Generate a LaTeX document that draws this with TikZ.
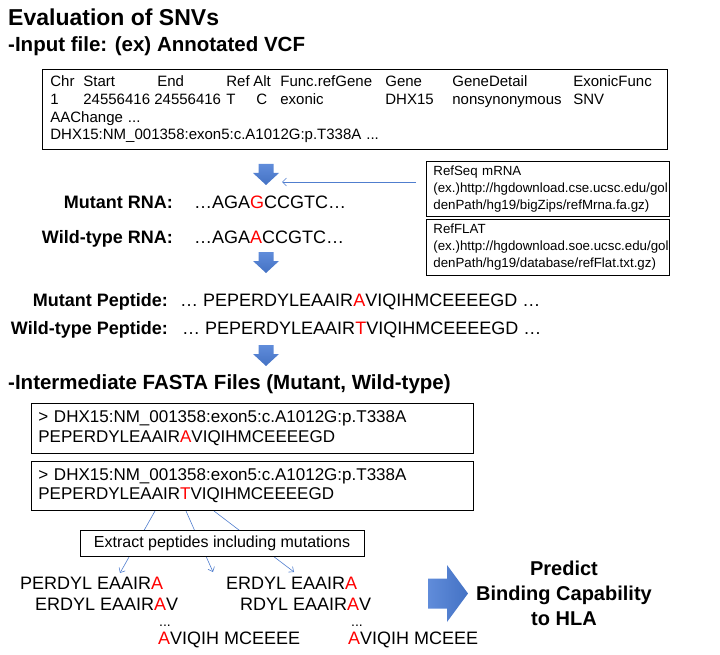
\documentclass[tikz,border=0pt]{standalone}
\usepackage{fontspec}
\setmainfont{Liberation Sans}
\usetikzlibrary{arrows.meta}

\definecolor{flowblue}{RGB}{68,114,196}
\definecolor{flowlight}{RGB}{96,140,218}
\definecolor{linkblue}{RGB}{80,126,206}
\newcommand{\mut}[1]{\textcolor{red}{#1}}

\tikzset{
  titlehead/.style={anchor=base west, inner sep=0pt, font=\bfseries\fontsize{23}{27}\selectfont},
  heading/.style={anchor=base west, inner sep=0pt, font=\bfseries\fontsize{20.5}{24}\selectfont},
  filebox/.style={draw=black, line width=0.8pt, anchor=north west, align=left, inner ysep=0pt},
  rowlabel/.style={anchor=base east, inner sep=0pt, font=\bfseries\fontsize{18}{21}\selectfont},
  seqtext/.style={anchor=base west, inner sep=0pt, font=\fontsize{18}{21}\selectfont},
  reflink/.style={linkblue, line width=0.6pt, -{Straight Barb[length=4pt, width=8pt]}},
  pepline/.style={linkblue, line width=0.6pt, -{Straight Barb[length=4pt, width=7pt]}},
  blockarrow/.style={top color=flowlight, bottom color=flowblue, draw=none}
}

\begin{document}
\begin{tikzpicture}[x=1pt,y=-1pt]
\useasboundingbox (0,0) rectangle (720,655);

% headings
\node[titlehead] (title) at (8,26) {Evaluation of SNVs};
\node[heading] (inputhead) at (8,52) {-Input file: (ex) Annotated VCF};
\node[heading] (fastahead) at (8,389) {-Intermediate FASTA Files (Mutant, Wild-type)};

% annotated vcf
\node[filebox, font=\fontsize{15}{17.7}\selectfont, minimum height=80pt, text width=609pt, inner xsep=8pt] (vcf) at (42,69)
{\makebox[33pt][l]{Chr}\makebox[74pt][l]{Start}\makebox[69pt][l]{End}\makebox[27pt][l]{Ref}\makebox[27pt][l]{Alt}\makebox[105pt][l]{Func.refGene}\makebox[67pt][l]{Gene}\makebox[121pt][l]{GeneDetail}ExonicFunc\\
\makebox[33pt][l]{1}\makebox[71pt][l]{24556416}\makebox[72pt][l]{24556416}\makebox[30pt][l]{T}\makebox[24pt][l]{C}\makebox[105pt][l]{exonic}\makebox[67pt][l]{DHX15}\makebox[121pt][l]{nonsynonymous}SNV\\
AAChange ...\\
DHX15:NM\_001358:exon5:c.A1012G:p.T338A ...};

% reference files
\node[filebox, font=\fontsize{13.3}{17}\selectfont, minimum height=55pt, text width=229pt, inner xsep=7pt] (refseq) at (426,161)
{RefSeq mRNA\\(ex.)http://hgdownload.cse.ucsc.edu/gol\\denPath/hg19/bigZips/refMrna.fa.gz)};
\node[filebox, font=\fontsize{13.3}{17}\selectfont, minimum height=56pt, text width=229pt, inner xsep=7pt] (refflat) at (426,219)
{RefFLAT\\(ex.)http://hgdownload.soe.ucsc.edu/gol\\denPath/hg19/database/refFlat.txt.gz)};

% block arrows down
\foreach \ay in {164,252,345}
  \shade[blockarrow, shift={(266,\ay)}] (-7.5,0) -- (7.5,0) -- (7.5,9) -- (13,9) -- (0,21) -- (-13,9) -- (-7.5,9) -- cycle;

\coordinate (refin) at (282,182);
\draw[reflink] ([xshift=-10pt]refin -| refseq.west) -- (refin);

% rna
\node[rowlabel] (mutrnalabel) at (173,208.5) {Mutant RNA:};
\node[seqtext] (mutrna) at (194,208.5) {…AGA\mut{G}CCGTC…};
\node[rowlabel] (wtrnalabel) at (173,243.5) {Wild-type RNA:};
\node[seqtext] (wtrna) at (194,243.5) {…AGA\mut{A}CCGTC…};

% peptides
\node[rowlabel] (mutpeplabel) at (168,306) {Mutant Peptide:};
\node[seqtext] (mutpep) at (180,306) {… PEPERDYLEAAIR\mut{A}VIQIHMCEEEEGD …};
\node[rowlabel] (wtpeplabel) at (168,334) {Wild-type Peptide:};
\node[seqtext] (wtpep) at (182,334) {… PEPERDYLEAAIR\mut{T}VIQIHMCEEEEGD …};

% fasta files
\node[filebox, font=\fontsize{17}{19.5}\selectfont, minimum height=50pt, text width=428pt, inner xsep=7pt] (mutfasta) at (31,403)
{> DHX15:NM\_001358:exon5:c.A1012G:p.T338A\\PEPERDYLEAAIR\mut{A}VIQIHMCEEEEGD};
\node[filebox, font=\fontsize{17}{19.5}\selectfont, minimum height=49pt, text width=428pt, inner xsep=7pt] (wtfasta) at (31,461)
{> DHX15:NM\_001358:exon5:c.A1012G:p.T338A\\PEPERDYLEAAIR\mut{T}VIQIHMCEEEEGD};

% extraction
\coordinate (from1) at (155,511);
\coordinate (from2) at (186,511);
\coordinate (from3) at (214,511);
\coordinate (to1) at (120,573);
\coordinate (to2) at (213,572);
\coordinate (to3) at (294,572);
\draw[pepline] (from1) -- (to1);
\draw[pepline] (from2) -- (to2);
\draw[pepline] (from3) -- (to3);
\node[draw=black, line width=0.8pt, fill=white, font=\fontsize{16}{19}\selectfont, minimum width=284pt, minimum height=26pt, inner sep=0pt] (extract) at (222,543) {Extract peptides including mutations};

\node[seqtext] (pep1a) at (20,589) {PERDYL EAAIR\mut{A}};
\node[seqtext] (pep1b) at (35,610.5) {ERDYL EAAIR\mut{A}V};
\node[seqtext, font=\fontsize{14}{16}\selectfont] (pep1c) at (159,626) {...};
\node[seqtext] (pep1d) at (158,644.5) {\mut{A}VIQIH MCEEEE};
\node[seqtext] (pep2a) at (226,589) {ERDYL EAAIR\mut{A}};
\node[seqtext] (pep2b) at (240,610.5) {RDYL EAAIR\mut{A}V};
\node[seqtext, font=\fontsize{14}{16}\selectfont] (pep2c) at (351,626) {...};
\node[seqtext] (pep2d) at (348,644.5) {\mut{A}VIQIH MCEEE};

% prediction
\shade[left color=flowlight, right color=flowblue] (428,578.5) -- (447,578.5) -- (447,565) -- (468,593.5) -- (447,622) -- (447,608.5) -- (428,608.5) -- cycle;
\node[align=center, font=\bfseries\fontsize{20}{25}\selectfont] (predict) at (564,593) {Predict\\Binding Capability\\to HLA};
\end{tikzpicture}
\end{document}
